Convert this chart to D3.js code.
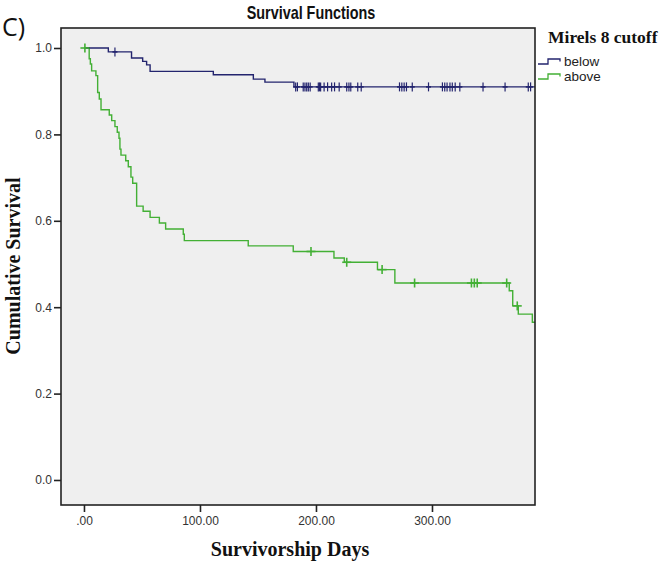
<!DOCTYPE html>
<html><head><meta charset="utf-8">
<script src="https://cdn.jsdelivr.net/npm/d3@7/dist/d3.min.js"></script>
<style>
html,body{margin:0;padding:0;background:#fff;}
svg{display:block;}
</style></head>
<body>
<svg id="c" width="663" height="566"></svg>
<script>
// ---- data ----
const groups = ["below", "above"];
const belowTimes = [0, 21, 41, 50.6, 54, 57, 111.5, 146, 156, 181];
const belowSurv  = [1.0, 0.991, 0.977, 0.969, 0.961, 0.946, 0.938, 0.928, 0.921, 0.910];
const belowCensored = [26.7, 182.5, 184, 189, 190.5, 192, 193.4, 195, 202, 203, 204, 207, 210, 213.5, 216, 220, 226.5, 228.4, 230, 236, 239, 272, 274, 276, 278, 283, 297, 309, 311, 313, 315.5, 317.5, 320, 324, 344, 363, 383, 385];
const aboveTimes = [0, 4.5, 5.5, 6.6, 10.3, 11.8, 13.2, 14.7, 21.8, 23.9, 26.7, 28.7, 30.2, 31, 31.9, 36, 38.2, 40.5, 42, 45.4, 51, 57, 65, 70.4, 85.6, 86.5, 141.6, 180.4, 215.5, 224.4, 253, 268, 366.6, 369.6, 374.4, 386.5];
const aboveSurv  = [1.0, 0.975, 0.963, 0.947, 0.936, 0.897, 0.882, 0.857, 0.845, 0.832, 0.818, 0.805, 0.791, 0.766, 0.752, 0.739, 0.725, 0.701, 0.687, 0.634, 0.622, 0.608, 0.595, 0.581, 0.569, 0.554, 0.542, 0.529, 0.514, 0.504, 0.487, 0.456, 0.438, 0.403, 0.384, 0.365];
const aboveCensored = [0.8, 195.7, 226.5, 257, 285, 334, 336.5, 339, 364.4, 373.5];
const xTickValues = [0, 100, 200, 300];
const xTickLabels = [".00", "100.00", "200.00", "300.00"];
const yTickValues = [0, 0.2, 0.4, 0.6, 0.8, 1.0];
const yTickLabels = ["0.0", "0.2", "0.4", "0.6", "0.8", "1.0"];
const maxTime = 388.8;

const colors = {below: "#23246e", above: "#43b035"};

// ---- layout ----
const svg = d3.select("#c");
const L = 61, R = 535, T = 28, B = 505;
const x = d3.scaleLinear().domain([-19.8, 388.8]).range([L, R]);
const y = d3.scaleLinear().domain([-0.0579, 1.0463]).range([B, T]);

// title (narrow bold)
svg.append("text").attr("transform", "translate(311,19) scale(0.8,1)").attr("text-anchor", "middle")
  .attr("font-family", "'Liberation Sans Narrow','Arial Narrow','Liberation Sans',sans-serif")
  .attr("font-weight", "bold").attr("font-size", 18).attr("fill", "#111").text("Survival Functions");
svg.append("text").attr("x", 2).attr("y", 36)
  .attr("font-family", "'Open Sans','Liberation Sans',sans-serif")
  .attr("font-size", 25).attr("fill", "#111").text("C)");

// plot background
svg.append("rect").attr("x", L).attr("y", T).attr("width", R - L).attr("height", B - T)
  .attr("fill", "#efefef");

// axes
const yAxis = d3.axisLeft(y).tickValues(yTickValues).tickSize(7).tickPadding(2)
  .tickFormat((d, i) => yTickLabels[i]);
const gy = svg.append("g").attr("transform", `translate(${L},0)`).call(yAxis);
const xAxis = d3.axisBottom(x).tickValues(xTickValues).tickSize(7).tickPadding(4)
  .tickFormat((d, i) => xTickLabels[i]);
const gx = svg.append("g").attr("transform", `translate(0,${B})`).call(xAxis);
[gx, gy].forEach(g => {
  g.select(".domain").remove();
  g.selectAll(".tick line").attr("stroke", "#222").attr("stroke-width", 1.6);
  g.selectAll(".tick text").attr("fill", "#333").attr("font-size", 12)
    .attr("font-family", "'Liberation Sans','DejaVu Sans',sans-serif");
});

// axis titles
svg.append("text").attr("x", 290).attr("y", 556).attr("text-anchor", "middle")
  .attr("font-family", "'Liberation Serif','Times New Roman',serif").attr("font-weight", "bold")
  .attr("font-size", 20).attr("fill", "#111").text("Survivorship Days");
svg.append("text").attr("transform", "translate(20,266) rotate(-90)").attr("text-anchor", "middle")
  .attr("font-family", "'Liberation Serif','Times New Roman',serif").attr("font-weight", "bold")
  .attr("font-size", 20).attr("fill", "#111").text("Cumulative Survival");

// curves
function stepData(times, surv) {
  const pts = times.map((t, i) => [t, surv[i]]);
  pts.push([maxTime, surv[surv.length - 1]]);
  return pts;
}
function survAt(times, surv, t) {
  let s = surv[0];
  for (let i = 0; i < times.length; i++) if (times[i] <= t) s = surv[i];
  return s;
}
const line = d3.line().x(d => x(d[0])).y(d => y(d[1])).curve(d3.curveStepAfter);
const series = [
  {key: "below", times: belowTimes, surv: belowSurv, cens: belowCensored},
  {key: "above", times: aboveTimes, surv: aboveSurv, cens: aboveCensored}
];
svg.append("clipPath").attr("id", "pc").append("rect")
  .attr("x", L).attr("y", T).attr("width", R - L).attr("height", B - T);
const plot = svg.append("g").attr("clip-path", "url(#pc)");
series.slice().reverse().forEach(s => {
  plot.append("path").datum(stepData(s.times, s.surv)).attr("d", line)
    .attr("fill", "none").attr("stroke", colors[s.key]).attr("stroke-width", 1.4);
});
series.forEach(s => {
  const g = plot.append("g");
  const h = 4.5, w = s.key === "above" ? 4.5 : 2.5;
  s.cens.forEach(t => {
    const cx = x(t), cy = y(survAt(s.times, s.surv, t));
    g.append("line").attr("x1", cx).attr("x2", cx).attr("y1", cy - h).attr("y2", cy + h)
      .attr("stroke", colors[s.key]).attr("stroke-width", s.key === "above" ? 1.6 : 1.2);
    g.append("line").attr("x1", cx - w).attr("x2", cx + w).attr("y1", cy).attr("y2", cy)
      .attr("stroke", colors[s.key]).attr("stroke-width", 1.6);
  });
});

// frame
svg.append("rect").attr("x", L).attr("y", T).attr("width", R - L).attr("height", B - T)
  .attr("fill", "none").attr("stroke", "#222").attr("stroke-width", 1.6);

// legend
svg.append("text").attr("x", 548).attr("y", 43)
  .attr("font-family", "'Liberation Serif','Times New Roman',serif").attr("font-weight", "bold")
  .attr("font-size", 17.5).attr("fill", "#111").text("Mirels 8 cutoff");
groups.forEach((k, i) => {
  const yy = 64 + i * 15;
  svg.append("path")
    .attr("d", `M538,${yy} H548 V${yy - 5} H560 V${yy - 2.5}`)
    .attr("fill", "none").attr("stroke", colors[k]).attr("stroke-width", 1.3);
  svg.append("text").attr("x", 564).attr("y", yy + 2)
    .attr("font-family", "'Liberation Sans','DejaVu Sans',sans-serif")
    .attr("font-size", 13.5).attr("fill", "#222").text(k);
});
</script>
</body></html>
